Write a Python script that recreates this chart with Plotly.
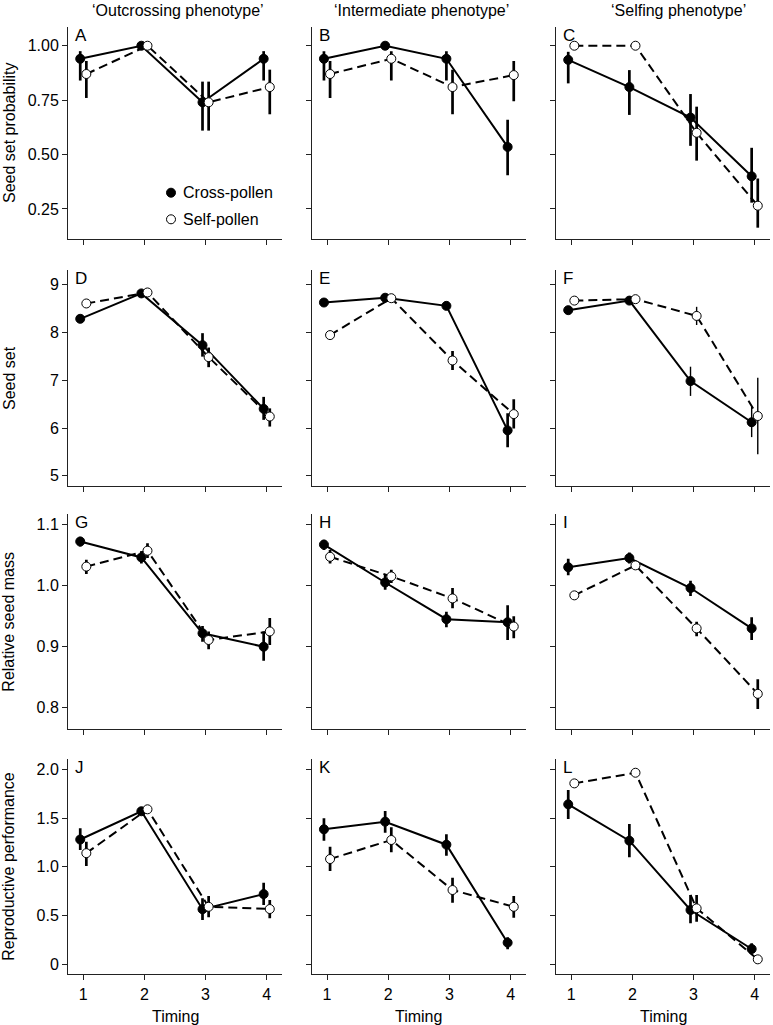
import plotly.graph_objects as go

W, H = 773, 1025

timing = [1, 2, 3, 4]
phenotypes = ["‘Outcrossing phenotype’", "‘Intermediate phenotype’", "‘Selfing phenotype’"]
panel_letters = ["A", "B", "C", "D", "E", "F", "G", "H", "I", "J", "K", "L"]
row_titles = ["Seed set probability", "Seed set", "Relative seed mass", "Reproductive performance"]

# ---- Row 1: seed set probability ----
prob_cross_mean = [[0.94, 1.00, 0.74, 0.94], [0.94, 1.00, 0.94, 0.535], [0.935, 0.81, 0.67, 0.40]]
prob_cross_hi = [[0.975, 1.00, 0.835, 0.975], [0.975, 1.00, 0.975, 0.66], [0.972, 0.888, 0.778, 0.531]]
prob_cross_lo = [[0.84, 1.00, 0.61, 0.84], [0.84, 1.00, 0.84, 0.405], [0.827, 0.682, 0.54, 0.279]]
prob_self_mean = [[0.87, 1.00, 0.74, 0.81], [0.87, 0.94, 0.81, 0.865], [1.00, 1.00, 0.60, 0.265]]
prob_self_hi = [[0.93, 1.00, 0.835, 0.89], [0.93, 0.975, 0.89, 0.93], [1.00, 1.00, 0.72, 0.39]]
prob_self_lo = [[0.76, 1.00, 0.61, 0.685], [0.76, 0.84, 0.685, 0.745], [1.00, 1.00, 0.472, 0.164]]

# ---- Row 2: seed set ----
set_cross_mean = [[8.28, 8.81, 7.73, 6.40], [8.62, 8.72, 8.55, 5.95], [8.46, 8.66, 6.98, 6.12]]
set_cross_hi = [[8.36, 8.85, 7.98, 6.65], [8.66, 8.76, 8.59, 6.31], [8.50, 8.70, 7.28, 6.45]]
set_cross_lo = [[8.20, 8.77, 7.49, 6.17], [8.58, 8.68, 8.51, 5.60], [8.42, 8.62, 6.67, 5.81]]
set_self_mean = [[8.60, 8.83, 7.48, 6.24], [7.94, 8.71, 7.41, 6.29], [8.66, 8.69, 8.34, 6.25]]
set_self_hi = [[8.64, 8.87, 7.68, 6.41], [7.99, 8.75, 7.61, 6.60], [8.70, 8.73, 8.53, 7.05]]
set_self_lo = [[8.56, 8.79, 7.27, 6.03], [7.89, 8.67, 7.21, 5.99], [8.62, 8.65, 8.15, 5.45]]

# ---- Row 3: relative seed mass ----
mass_cross_mean = [[1.072, 1.046, 0.922, 0.900], [1.067, 1.005, 0.945, 0.940], [1.030, 1.045, 0.996, 0.930]]
mass_cross_hi = [[1.080, 1.056, 0.934, 0.925], [1.075, 1.018, 0.957, 0.968], [1.044, 1.054, 1.008, 0.948]]
mass_cross_lo = [[1.064, 1.036, 0.908, 0.877], [1.058, 0.993, 0.932, 0.911], [1.017, 1.036, 0.983, 0.911]]
mass_self_mean = [[1.031, 1.057, 0.911, 0.925], [1.047, 1.015, 0.979, 0.933], [0.984, 1.033, 0.930, 0.823]]
mass_self_hi = [[1.042, 1.069, 0.925, 0.947], [1.058, 1.026, 0.996, 0.950], [0.990, 1.038, 0.941, 0.847]]
mass_self_lo = [[1.019, 1.045, 0.896, 0.903], [1.036, 1.004, 0.963, 0.914], [0.978, 1.028, 0.917, 0.798]]

# ---- Row 4: reproductive performance ----
perf_cross_mean = [[1.28, 1.57, 0.565, 0.72], [1.385, 1.463, 1.227, 0.222], [1.641, 1.268, 0.557, 0.157]]
perf_cross_hi = [[1.395, 1.60, 0.677, 0.837], [1.497, 1.572, 1.333, 0.277], [1.788, 1.439, 0.711, 0.215]]
perf_cross_lo = [[1.172, 1.54, 0.454, 0.608], [1.268, 1.35, 1.114, 0.154], [1.49, 1.097, 0.42, 0.113]]
perf_self_mean = [[1.14, 1.59, 0.59, 0.567], [1.08, 1.275, 0.762, 0.59], [1.856, 1.965, 0.574, 0.051]]
perf_self_hi = [[1.257, 1.62, 0.70, 0.66], [1.206, 1.405, 0.888, 0.70], [1.87, 1.98, 0.711, 0.06]]
perf_self_lo = [[1.008, 1.56, 0.482, 0.472], [0.957, 1.149, 0.632, 0.478], [1.84, 1.95, 0.437, 0.04]]

y_tickvals = [[0.25, 0.5, 0.75, 1.0], [5, 6, 7, 8, 9], [0.8, 0.9, 1.0, 1.1], [0, 0.5, 1.0, 1.5, 2.0]]
y_ticktext = [["0.25", "0.50", "0.75", "1.00"], ["5", "6", "7", "8", "9"],
              ["0.8", "0.9", "1.0", "1.1"], ["0", "0.5", "1.0", "1.5", "2.0"]]
y_ranges = [[0.112, 1.086], [4.789, 9.299], [0.765, 1.117], [-0.1026, 2.103]]
x_range = [0.75, 4.25]

rows = [
    (prob_cross_mean, prob_cross_hi, prob_cross_lo, prob_self_mean, prob_self_hi, prob_self_lo),
    (set_cross_mean, set_cross_hi, set_cross_lo, set_self_mean, set_self_hi, set_self_lo),
    (mass_cross_mean, mass_cross_hi, mass_cross_lo, mass_self_mean, mass_self_hi, mass_self_lo),
    (perf_cross_mean, perf_cross_hi, perf_cross_lo, perf_self_mean, perf_self_hi, perf_self_lo),
]

# layout in pixels
col_px = [(68, 282), (311.7, 526), (556, 770)]
row_px = [(27, 239), (270, 486), (514, 729.3), (759.3, 974.3)]
DODGE = 0.05
FONT = "Liberation Sans, Arial, Helvetica, sans-serif"
AXC = "#222222"

fig = go.Figure()
layout = {}
annotations = []
shapes = []


def px_x(p):
    return p / W


def px_y(p):
    return 1 - p / H


for r in range(4):
    cm, chi, clo, sm, shi, slo = rows[r]
    for c in range(3):
        idx = r * 3 + c + 1
        xa = "x" if idx == 1 else f"x{idx}"
        ya = "y" if idx == 1 else f"y{idx}"
        thick = 1.4 if (r == 1 and c == 2) else 2.7
        cross_up = [h - m for h, m in zip(chi[c], cm[c])]
        cross_dn = [m - l for m, l in zip(cm[c], clo[c])]
        self_up = [h - m for h, m in zip(shi[c], sm[c])]
        self_dn = [m - l for m, l in zip(sm[c], slo[c])]
        fig.add_trace(go.Scatter(
            x=[t - DODGE for t in timing], y=cm[c], xaxis=xa, yaxis=ya,
            mode="lines+markers", showlegend=False,
            line=dict(color="black", width=2),
            marker=dict(color="black", size=9, line=dict(color="black", width=1)),
            error_y=dict(type="data", array=cross_up, arrayminus=cross_dn, symmetric=False,
                         color="black", thickness=thick, width=0),
        ))
        fig.add_trace(go.Scatter(
            x=[t + DODGE for t in timing], y=sm[c], xaxis=xa, yaxis=ya,
            mode="lines+markers", showlegend=False,
            line=dict(color="black", width=2, dash="9px,5px"),
            marker=dict(color="white", size=9, line=dict(color="black", width=1)),
            error_y=dict(type="data", array=self_up, arrayminus=self_dn, symmetric=False,
                         color="black", thickness=thick, width=0),
        ))
        x0, x1 = col_px[c]
        y0, y1 = row_px[r]
        xkey = "xaxis" if idx == 1 else f"xaxis{idx}"
        ykey = "yaxis" if idx == 1 else f"yaxis{idx}"
        layout[xkey] = dict(
            domain=[px_x(x0), px_x(x1)], anchor=ya, range=x_range,
            tickvals=timing, ticktext=[str(t) for t in timing] if r == 3 else ["", "", "", ""],
            showticklabels=(r == 3), ticks="outside", ticklen=5, tickwidth=1, tickcolor=AXC,
            showline=True, linecolor=AXC, linewidth=1, showgrid=False, zeroline=False,
            tickfont=dict(size=16, color="black", family=FONT), fixedrange=True,
        )
        layout[ykey] = dict(
            domain=[px_y(y1), px_y(y0)], anchor=xa, range=y_ranges[r],
            tickvals=y_tickvals[r], ticktext=y_ticktext[r], showticklabels=(c == 0),
            ticks="outside", ticklen=5, tickwidth=1, tickcolor=AXC,
            showline=True, linecolor=AXC, linewidth=1, showgrid=False, zeroline=False,
            tickfont=dict(size=16, color="black", family=FONT), fixedrange=True,
        )
        annotations.append(dict(
            text=panel_letters[idx - 1], xref="paper", yref="paper",
            x=px_x(x0 + 5), y=px_y(y0 - 3), xanchor="left", yanchor="top",
            showarrow=False, font=dict(size=17, color="black", family=FONT),
        ))

# column titles
title_cx = [177.5, 421.7, 678]
for c in range(3):
    annotations.append(dict(
        text=phenotypes[c], xref="paper", yref="paper", x=px_x(title_cx[c]), y=px_y(10),
        xanchor="center", yanchor="middle", showarrow=False,
        font=dict(size=16, color="black", family=FONT),
    ))
    annotations.append(dict(
        text="Timing", xref="paper", yref="paper", x=px_x((col_px[c][0] + col_px[c][1]) / 2),
        y=px_y(1016), xanchor="center", yanchor="middle", showarrow=False,
        font=dict(size=16, color="black", family=FONT),
    ))

# row titles
for r in range(4):
    annotations.append(dict(
        text=row_titles[r], xref="paper", yref="paper", x=px_x(9),
        y=px_y((row_px[r][0] + row_px[r][1]) / 2), xanchor="center", yanchor="middle",
        textangle=-90, showarrow=False, font=dict(size=16, color="black", family=FONT),
    ))

# legend (in panel A)
legend_items = [("Cross-pollen", "black", 192.7), ("Self-pollen", "white", 219.3)]
for label, fill, ypx in legend_items:
    shapes.append(dict(
        type="circle", xref="paper", yref="paper", xsizemode="pixel", ysizemode="pixel",
        xanchor=px_x(171), yanchor=px_y(ypx), x0=-4.5, x1=4.5, y0=-4.5, y1=4.5,
        fillcolor=fill, line=dict(color="black", width=1),
    ))
    annotations.append(dict(
        text=label, xref="paper", yref="paper", x=px_x(181), y=px_y(ypx),
        xanchor="left", yanchor="middle", showarrow=False,
        font=dict(size=16, color="black", family=FONT),
    ))

fig.update_layout(
    width=W, height=H, margin=dict(l=0, r=0, t=0, b=0),
    paper_bgcolor="white", plot_bgcolor="white",
    showlegend=False, annotations=annotations, shapes=shapes,
    font=dict(family=FONT, size=16, color="black"),
    hovermode=False,
    **layout,
)

fig.write_html(
    "out.html",
    config={"displayModeBar": False, "staticPlot": True},
    post_script="document.body.style.margin='0';document.body.style.overflow='hidden';",
)
